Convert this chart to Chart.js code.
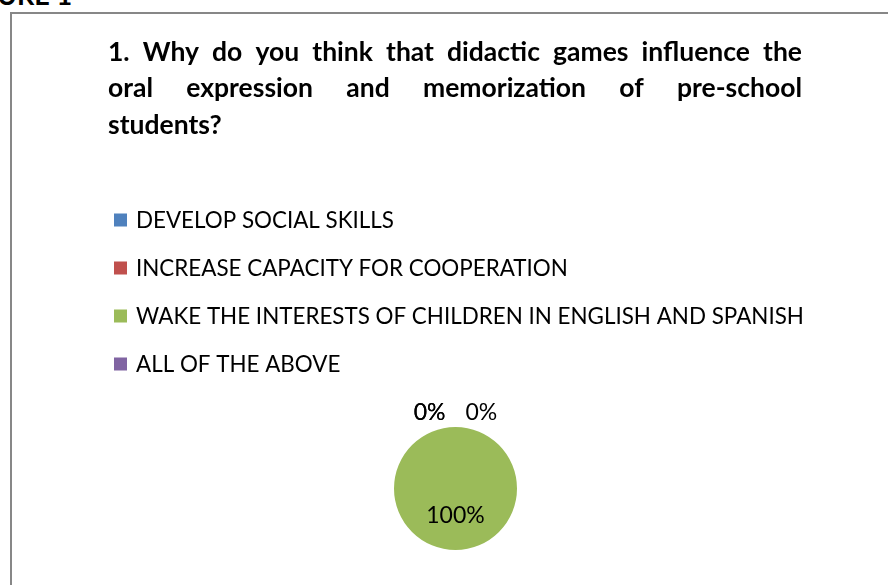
<!DOCTYPE html>
<html>
<head>
<meta charset="utf-8">
<script src="https://cdn.jsdelivr.net/npm/chart.js@4.4.1/dist/chart.umd.min.js"></script>
<style>
  html, body { margin: 0; padding: 0; background: #fff; overflow: hidden; }
  #figLabel {
    position: absolute; left: -46px; top: -22px;
    font: bold 27px Lato, sans-serif; color: #000; white-space: nowrap;
  }
  #frame {
    position: absolute; left: 10px; top: 12px; width: 960px; height: 640px;
    border: 2px solid #878787;
  }
  #chart { position: absolute; left: 0; top: 0; }
</style>
</head>
<body>
<div id="figLabel">FIGURE 1</div>
<div id="frame"></div>
<canvas id="chart" width="888" height="585"></canvas>
<script>
// Chart data
const titleLines = [
  "1. Why do you think that didactic games influence the",
  "oral expression and memorization of pre-school",
  "students?"
];
const categories = [
  "DEVELOP SOCIAL SKILLS",
  "INCREASE CAPACITY FOR COOPERATION",
  "WAKE THE INTERESTS OF CHILDREN IN ENGLISH AND SPANISH",
  "ALL OF THE ABOVE"
];
const percentages = [0, 0, 100, 0];
const sliceColors = ["#4F81BD", "#C0504D", "#9BBB59", "#8064A2"];

// Justified title (Excel style), last line left aligned
const justifiedTitle = {
  id: "justifiedTitle",
  afterDraw(chart, args, opts) {
    const ctx = chart.ctx;
    ctx.save();
    ctx.font = opts.font;
    ctx.fillStyle = opts.color;
    ctx.textBaseline = "alphabetic";
    ctx.textAlign = "left";
    opts.lines.forEach((line, i) => {
      const y = opts.top + i * opts.lineHeight;
      const words = line.split(" ");
      if (i === opts.lines.length - 1 || words.length < 2) {
        ctx.fillText(line, opts.left, y);
        return;
      }
      const textW = words.reduce((s, w) => s + ctx.measureText(w).width, 0);
      const gap = (opts.width - textW) / (words.length - 1);
      let x = opts.left;
      words.forEach((w) => {
        ctx.fillText(w, x, y);
        x += ctx.measureText(w).width + gap;
      });
    });
    ctx.restore();
  }
};

// Vertical legend list above the pie
const listLegend = {
  id: "listLegend",
  afterDraw(chart, args, opts) {
    const ctx = chart.ctx;
    const ds = chart.data.datasets[0];
    ctx.save();
    ctx.font = opts.font;
    ctx.textBaseline = "middle";
    ctx.textAlign = "left";
    chart.data.labels.forEach((label, i) => {
      const y = opts.top + i * opts.rowHeight;
      ctx.fillStyle = ds.backgroundColor[i];
      ctx.fillRect(opts.left, y - opts.box / 2, opts.box, opts.box);
      ctx.fillStyle = opts.color;
      ctx.fillText(label, opts.left + opts.box + opts.gap, y + 1);
    });
    ctx.restore();
  }
};

// Percent labels: inside for real slices, side by side on top for empty ones
const sliceLabels = {
  id: "sliceLabels",
  afterDatasetsDraw(chart, args, opts) {
    const ctx = chart.ctx;
    const meta = chart.getDatasetMeta(0);
    const values = chart.data.datasets[0].data;
    ctx.save();
    ctx.font = opts.font;
    ctx.fillStyle = opts.color;
    ctx.textAlign = "center";
    ctx.textBaseline = "middle";
    let side = -1;
    meta.data.forEach((arc, i) => {
      const { x, y, startAngle, endAngle, outerRadius } = arc.getProps(
        ["x", "y", "startAngle", "endAngle", "outerRadius"], true);
      const mid = (startAngle + endAngle) / 2;
      const text = values[i] + "%";
      if (values[i] > 0) {
        const r = outerRadius * opts.insideRatio;
        ctx.fillText(text, x + Math.cos(mid) * r, y + Math.sin(mid) * r);
      } else {
        const r = outerRadius + opts.outsideGap;
        const w = ctx.measureText(text).width;
        const lx = x + Math.cos(mid) * r + side * (w / 2 + opts.pairGap);
        ctx.fillText(text, lx, y + Math.sin(mid) * r);
        side = -side;
      }
    });
    ctx.restore();
  }
};

new Chart(document.getElementById("chart"), {
  type: "pie",
  data: {
    labels: categories,
    datasets: [{
      data: percentages,
      backgroundColor: sliceColors,
      borderWidth: 0
    }]
  },
  plugins: [justifiedTitle, listLegend, sliceLabels],
  options: {
    responsive: false,
    animation: false,
    events: [],
    layout: { padding: { left: 394, right: 371, top: 427, bottom: 35 } },
    plugins: {
      legend: { display: false },
      tooltip: { enabled: false },
      justifiedTitle: {
        lines: titleLines,
        font: "bold 26.5px Lato, sans-serif",
        color: "#000",
        left: 108, width: 694, top: 60.5, lineHeight: 36.8
      },
      listLegend: {
        font: "22.4px Lato, sans-serif",
        color: "#000",
        left: 114, top: 220, rowHeight: 48, box: 13, gap: 9
      },
      sliceLabels: {
        font: "23px Lato, sans-serif",
        color: "#000",
        insideRatio: 0.44, outsideGap: 14, pairGap: 10
      }
    }
  }
});
</script>
</body>
</html>
